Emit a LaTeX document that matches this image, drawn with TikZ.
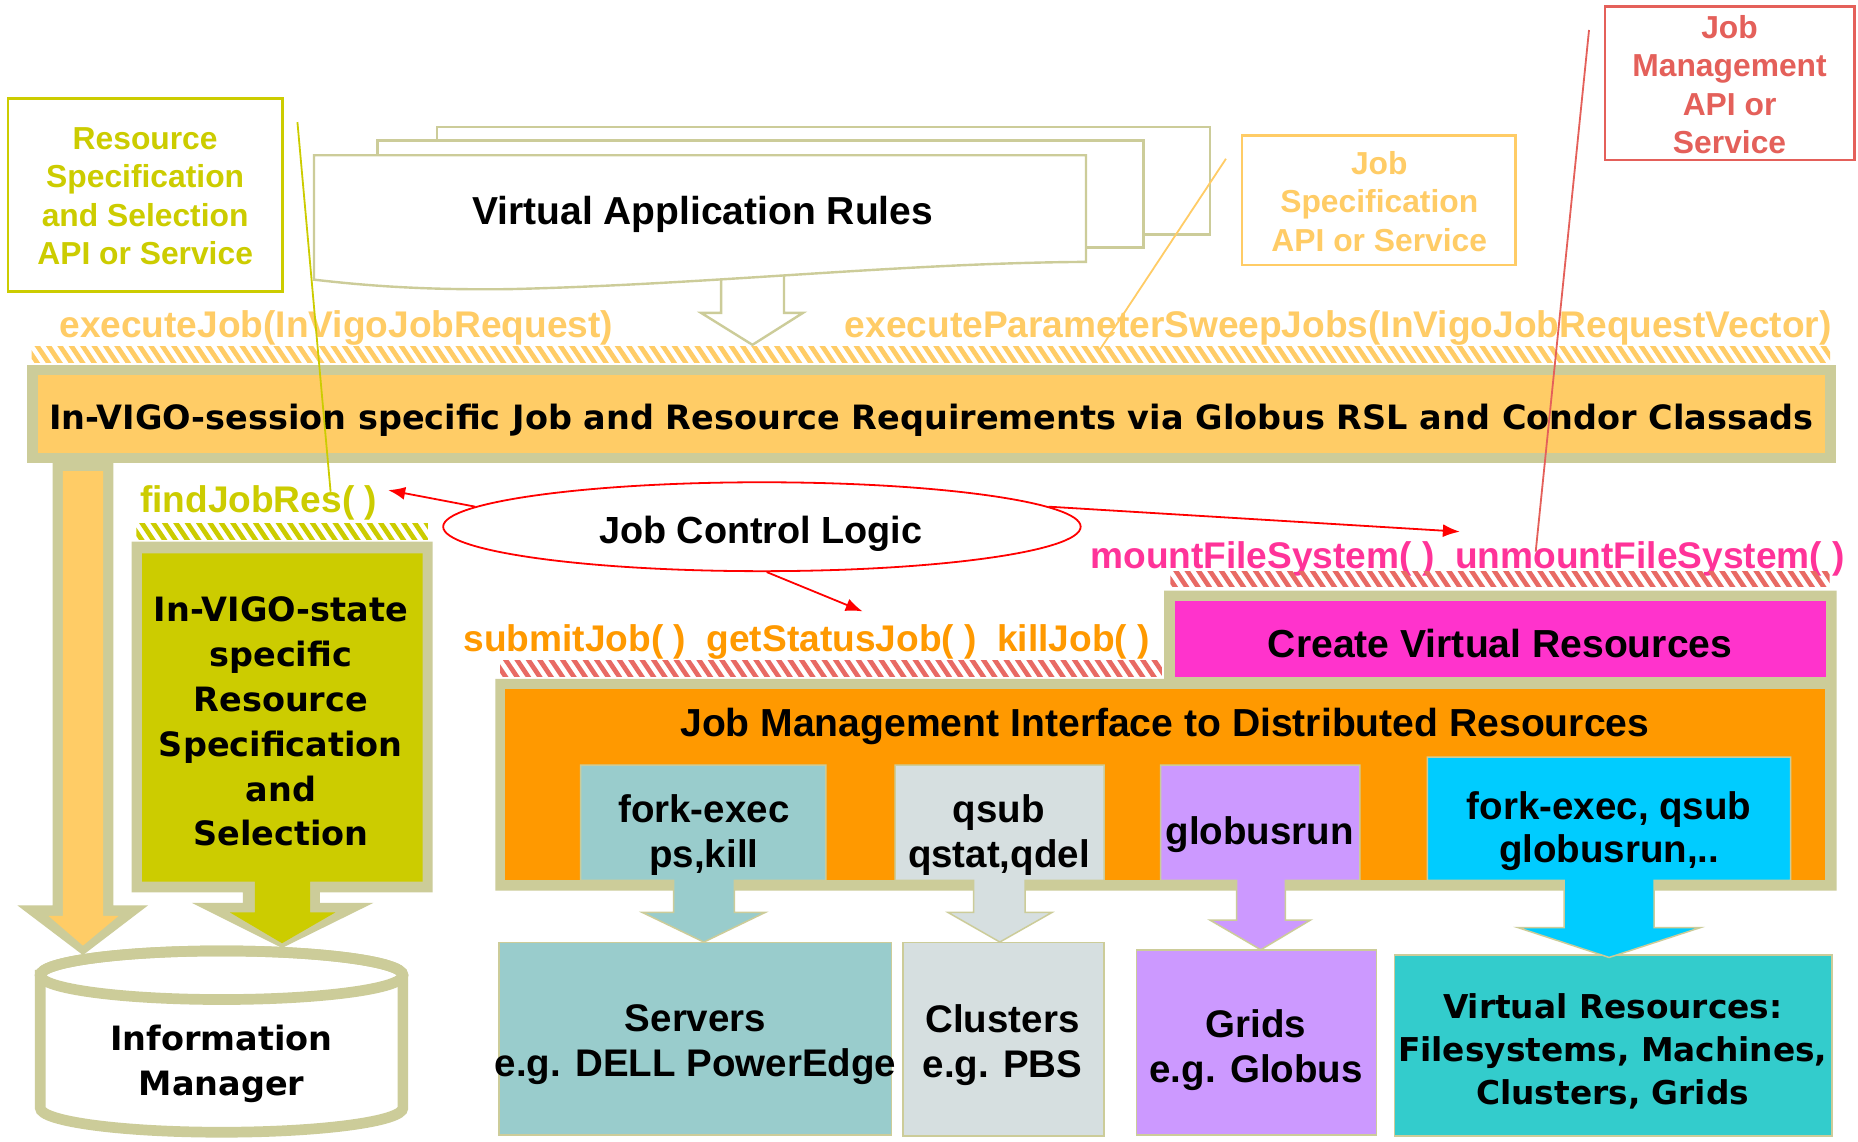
\documentclass[tikz,border=0pt]{standalone}
\usepackage{fontspec}
\setmainfont{Liberation Sans}
\newfontfamily\widefont{DejaVu Sans}
\usetikzlibrary{shapes.geometric,arrows.meta}

\definecolor{khaki}{HTML}{CCCC99}
\definecolor{lorange}{HTML}{FFCC66}
\definecolor{ygreen}{HTML}{CCCC00}
\definecolor{dorange}{HTML}{FF9900}
\definecolor{magbox}{HTML}{FF33CC}
\definecolor{pinktxt}{HTML}{FF3399}
\definecolor{salmon}{HTML}{E4605A}
\definecolor{hatchred}{HTML}{E86A64}
\definecolor{tealbox}{HTML}{99CCCC}
\definecolor{graybox}{HTML}{D6DFE0}
\definecolor{lavbox}{HTML}{CC99FF}
\definecolor{cyanbox}{HTML}{00CCFF}
\definecolor{turqbox}{HTML}{33CCCC}

% diagonal hatching strip: x1, y1, x2, y2, colour
\newcommand\hatchband[5]{%
  \begin{scope}
    \clip (#1,#2) rectangle (#3,#4);
    \pgfmathtruncatemacro\hbn{(#3-#1+40)/9.6}
    \foreach \k in {0,...,\hbn}
      \draw[#5, line width=4.7pt] ({#1-25+\k*9.6},{#2-2}) -- ++({0.67*(#4-#2+4)},{#4-#2+4});
  \end{scope}}

\begin{document}
\begin{tikzpicture}[x=1.185pt,y=-1.185pt,
  lbl/.style={inner sep=0pt, align=center, yshift=-4.5pt, font=\bfseries\fontsize{38.5pt}{45pt}\selectfont},
  biglbl/.style={inner sep=0pt, align=center, yshift=-4pt, font=\bfseries\fontsize{39.1pt}{45pt}\selectfont},
  fnlbl/.style={inner sep=0pt, yshift=-4pt, font=\bfseries\fontsize{37.1pt}{44pt}\selectfont},
  apilbl/.style={inner sep=0pt, align=center, font=\bfseries\fontsize{31.8pt}{38.3pt}\selectfont},
  widelbl/.style={inner sep=0pt, align=center, yshift=-2.4pt, font=\widefont\bfseries\fontsize{33.5pt}{44.8pt}\selectfont},
  docshape/.style={fill=white, draw=khaki, line width=2.4pt},
  boxline/.style={draw=khaki, line width=1.5pt},
  redarr/.style={draw=red, line width=1.8pt, -{Latex[length=17pt,width=13pt]}},
  callout/.style={line width=1.8pt}]

\fill[white] (0,0) rectangle (1568,963);
\useasboundingbox (0,0) rectangle (1568,963);

% ---------- API / service boxes ----------
\draw[ygreen, line width=2.4pt] (7,83) rectangle (238.5,246);
\node[apilbl, text=ygreen] (rsapi) at (122.5,165.5) {Resource\\Specification\\and Selection\\API or Service};
\draw[lorange, line width=2.4pt] (1048,114.5) rectangle (1279,223.6);
\node[apilbl, text=lorange] (jsapi) at (1164,170) {Job\\Specification\\API or Service};
\draw[salmon, line width=2.4pt] (1354.5,5.6) rectangle (1565,135);
\node[apilbl, text=salmon] (jmapi) at (1459.6,71.5) {Job\\Management\\API or\\Service};

% ---------- stacked rule documents ----------
\draw[docshape] (369,107) rectangle (1021,198);
\draw[docshape] (318.5,118.7) rectangle (965,209);
\draw[docshape] (608.5,222) -- (608.5,264) -- (591.6,264) -- (635,291) -- (677.7,264) -- (661.6,264) -- (661.6,222);
\draw[docshape] (265,131) -- (916.5,131) -- (916.5,221)
   .. controls (760,222) and (600,240) .. (430,244)
   .. controls (350,245) and (300,240) .. (265,236) -- cycle;
\node[lbl, font=\bfseries\fontsize{39pt}{45pt}\selectfont] (var) at (593,177) {Virtual Application Rules};

% ---------- session banner ----------
\node[fnlbl, text=lorange, anchor=west] (ej) at (50,273) {executeJob(InVigoJobRequest)};
\node[fnlbl, text=lorange, anchor=east] (eps) at (1546,273) {executeParameterSweepJobs(InVigoJobRequestVector)};
\hatchband{26.7}{292.5}{1544.5}{305.5}{lorange}
\fill[khaki] (22.7,308) rectangle (1549,391);
\fill[lorange] (31.7,316.5) rectangle (1540,382);
\node[widelbl, yshift=-4pt] (bnr) at (786,349) {In-VIGO-session specific Job and Resource Requirements via Globus RSL and Condor Classads};

% ---------- left column ----------
\fill[khaki] (44.5,385) -- (95.6,385) -- (95.6,764) -- (125,764) -- (70,806) -- (14.6,764) -- (44.5,764) -- cycle;
\fill[lorange] (53,397.6) -- (87,397.6) -- (87,773) -- (100,773) -- (70,798) -- (41,773) -- (53,773) -- cycle;

\node[fnlbl, text=ygreen, anchor=west] (fjr) at (118,421) {findJobRes(~)};
\hatchband{115}{442}{361}{455}{ygreen}
\fill[khaki] (111,457) -- (365,457) -- (365,753) -- (270,753) -- (270,762) -- (315,762) -- (238,800) -- (162,762) -- (205,762) -- (205,753) -- (111,753) -- cycle;
\fill[ygreen] (120,467) -- (356.7,467) -- (356.7,744) -- (261.7,744) -- (261.7,770) -- (283,770) -- (238,796) -- (194,770) -- (215,770) -- (215,744) -- (120,744) -- cycle;
\node[widelbl, yshift=2.4pt] (ivs) at (237,609) {In-VIGO-state\\specific\\Resource\\Specification\\and\\Selection};

% information manager cylinder
\filldraw[fill=white, draw=khaki, line width=10.7pt] (34,823) -- (34,935)
   arc[start angle=180, end angle=360, x radius=181.3pt, y radius=24.3pt] -- (340,823)
   arc[start angle=0, end angle=180, x radius=181.3pt, y radius=24.3pt] -- cycle;
\draw[khaki, line width=10.7pt] (187,823) ellipse[x radius=181.3pt, y radius=24.3pt];
\node[widelbl, font=\widefont\bfseries\fontsize{33.5pt}{45pt}\selectfont] (im) at (187,896) {Information\\Manager};

% ---------- job control logic ----------
\node[ellipse, draw=red, line width=1.8pt, fill=white, minimum width=637.5pt, minimum height=88.9pt, inner sep=0pt] (jcl) at (643,444.5) {};
\node[inner sep=0pt, yshift=-4.5pt, font=\bfseries\fontsize{37.8pt}{44pt}\selectfont] (jcltxt) at (642,447) {Job Control Logic};

\node[fnlbl, text=dorange, anchor=west] (sj) at (391,538.6) {submitJob(~)~~getStatusJob(~)~~killJob(~)};
\hatchband{422}{557.5}{980.6}{570.5}{hatchred}
\node[fnlbl, text=pinktxt, anchor=west] (mfs) at (920,468.4) {mountFileSystem(~)~~unmountFileSystem(~)};
\hatchband{987.6}{482.4}{1544}{495}{hatchred}

\coordinate (fjrtip) at (327.6,413.6);
\coordinate (sjtip) at (728,516);
\coordinate (mfstip) at (1232,448.7);
\draw[redarr] (jcl.176) -- (fjrtip);
\draw[redarr] (jcl.-84) -- (sjtip);
\draw[redarr] (jcl.4) -- (mfstip);

% ---------- job management interface ----------
\fill[khaki] (982.5,498.5) -- (1550,498.5) -- (1550,751.6) -- (418,751.6) -- (418,573) -- (982.5,573) -- cycle;
\fill[magbox] (991.6,507) rectangle (1541,571.5);
\node[biglbl] (cvr) at (1266,540) {Create Virtual Resources};
\fill[dorange] (426,581.5) rectangle (1540,743);
\node[biglbl] (jmi) at (983,610) {Job Management Interface to Distributed Resources};

% ---------- target resources ----------
\filldraw[boxline, fill=tealbox] (421,795.2) rectangle (752.4,957.8);
\node[lbl] (srv) at (587,878) {Servers\\e.g. DELL PowerEdge};
\filldraw[boxline, fill=graybox] (762,795.2) rectangle (931.7,958.7);
\node[lbl] (cls) at (846,878.5) {Clusters\\e.g. PBS};
\filldraw[boxline, fill=lavbox] (959.2,801.7) rectangle (1161.8,958);
\node[lbl] (grd) at (1060,882) {Grids\\e.g. Globus};
\filldraw[boxline, fill=turqbox] (1177,806) rectangle (1546,958.6);
\node[widelbl, yshift=-1.5pt, font=\widefont\bfseries\fontsize{32.8pt}{43.2pt}\selectfont] (vr) at (1361,884.2) {Virtual Resources:\\Filesystems, Machines,\\Clusters, Grids};

% command boxes with their down arrows
\filldraw[boxline, fill=tealbox] (490,645.6) -- (697,645.6) -- (697,743) -- (619.7,743) -- (619.7,770) -- (645.8,770) -- (594,795) -- (542,770) -- (568.4,770) -- (568.4,743) -- (490,743) -- cycle;
\node[lbl] (fe) at (594,701) {fork-exec\\ps,kill};
\filldraw[boxline, fill=graybox] (755.3,645.6) -- (931.7,645.6) -- (931.7,743) -- (865.2,743) -- (865.2,770) -- (887.8,770) -- (843.8,795) -- (800,770) -- (821.7,770) -- (821.7,743) -- (755.3,743) -- cycle;
\node[lbl] (qs) at (843,701) {qsub\\qstat,qdel};
\filldraw[boxline, fill=lavbox] (979.5,645.6) -- (1147.7,645.6) -- (1147.7,743) -- (1084.7,743) -- (1084.7,776.4) -- (1106,776.4) -- (1064,801.5) -- (1021,776.4) -- (1043.5,776.4) -- (1043.5,743) -- (979.5,743) -- cycle;
\node[lbl] (gr) at (1063,700.5) {globusrun};
\filldraw[boxline, fill=cyanbox] (1204.6,639) -- (1511.2,639) -- (1511.2,743) -- (1396,743) -- (1396,782.8) -- (1435,782.8) -- (1358,808) -- (1281,782.8) -- (1320,782.8) -- (1320,743) -- (1204.6,743) -- cycle;
\node[lbl, font=\bfseries\fontsize{38.5pt}{42.7pt}\selectfont] (fq) at (1358,697.5) {fork-exec, qsub\\globusrun,..};

% ---------- callout lines ----------
\coordinate (rsA) at (251,103);
\coordinate (rsB) at (279,415);
\draw[callout, ygreen] (rsA) -- (rsB);
\coordinate (jsA) at (1034.6,134);
\coordinate (jsB) at (928,295.4);
\draw[callout, lorange] (jsA) -- (jsB);
\coordinate (jmA) at (1341,25.3);
\coordinate (jmB) at (1296,465.5);
\draw[callout, salmon] (jmA) -- (jmB);
\end{tikzpicture}
\end{document}
